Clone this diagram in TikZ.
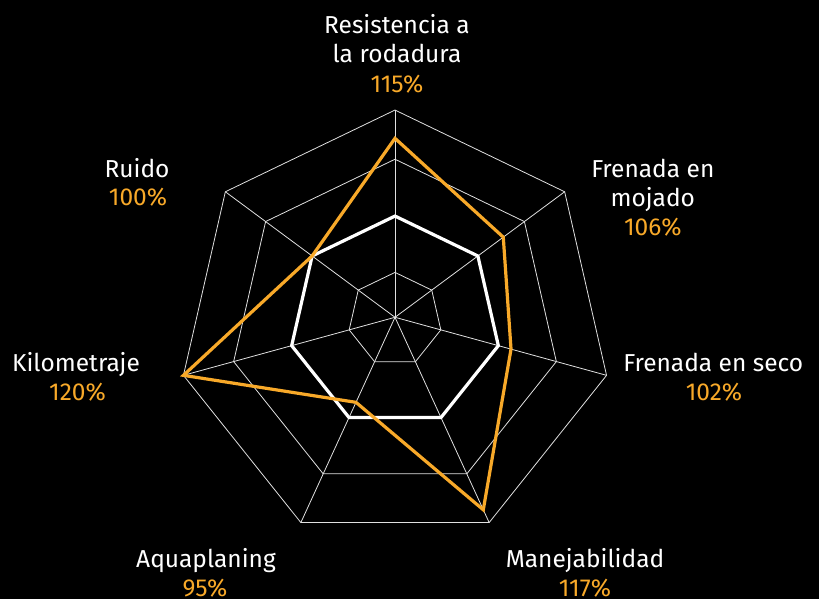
\documentclass[tikz,border=0pt]{standalone}
\usepackage{fontspec}
\setmainfont{Fira Sans}
\definecolor{tireorange}{RGB}{248,169,41}
\begin{document}
\begin{tikzpicture}[x=1pt,y=1pt]
\tikzstyle{grid}=[draw=white!88!black, line width=0.8pt]
\tikzstyle{base}=[draw=white, line width=3.2pt]
\tikzstyle{score}=[draw=tireorange, line width=3.2pt]
\tikzstyle{lbl}=[text=white, align=center, anchor=base, inner sep=0pt, font=\fontsize{24.5}{29}\selectfont]
\tikzstyle{pct}=[text=tireorange, anchor=base, inner sep=0pt, font=\fontsize{24.5}{29}\selectfont]
\fill[black] (0,0) rectangle (819,599);
\useasboundingbox (0,0) rectangle (819,599);
\coordinate (o) at (395,281.7);
% rings 90 / 110 / 120 and spokes
\foreach \rad in {47,165.5,217}
  \draw[grid] ({395+\rad*cos(90)},{281.7+\rad*sin(90)-0.045*\rad})
    \foreach \i in {1,...,6}{ -- ({395+\rad*cos(90-\i*360/7)},{281.7+\rad*sin(90-\i*360/7)-0.045*\rad}) } -- cycle;
\foreach \i in {0,...,6}
  \coordinate (ax\i) at ({395+217*cos(90-\i*360/7)},{281.7+217*sin(90-\i*360/7)-0.045*217});
\foreach \i in {0,...,6}
  \draw[grid] (o) -- (ax\i);
% reference tyre = 100%
\foreach \i in {0,...,6}
  \coordinate (w\i) at ({395+106*cos(90-\i*360/7)},{281.7+106*sin(90-\i*360/7)-0.045*106});
\draw[base] (w0) -- (w1) -- (w2) -- (w3) -- (w4) -- (w5) -- (w6) -- cycle;
% tested tyre
\foreach \i/\rad in {0/187.4,1/138.5,2/119,3/203.5,4/89.9,5/217,6/106}
  \coordinate (d\i) at ({395+\rad*cos(90-\i*360/7)},{281.7+\rad*sin(90-\i*360/7)-0.045*\rad});
\draw[score] (d0) -- (d1) -- (d2) -- (d3) -- (d4) -- (d5) -- (d6) -- cycle;

\path (397,536) node[lbl](res){Resistencia a\\la rodadura} (397,506) node[pct](resv){115\%};
\path (652.8,392.3) node[lbl](fmo){Frenada en\\mojado} (652.8,363) node[pct](fmov){106\%};
\path (713.3,227.3) node[lbl](fse){Frenada en seco} (714,198) node[pct](fsev){102\%};
\path (585,31) node[lbl](man){Manejabilidad} (585,2) node[pct](manv){117\%};
\path (206,31) node[lbl](aqu){Aquaplaning} (205,2) node[pct](aquv){95\%};
\path (76,227.3) node[lbl](kil){Kilometraje} (77.5,198) node[pct](kilv){120\%};
\path (137,421.3) node[lbl](rui){Ruido} (138,393) node[pct](ruiv){100\%};
\end{tikzpicture}
\end{document}
